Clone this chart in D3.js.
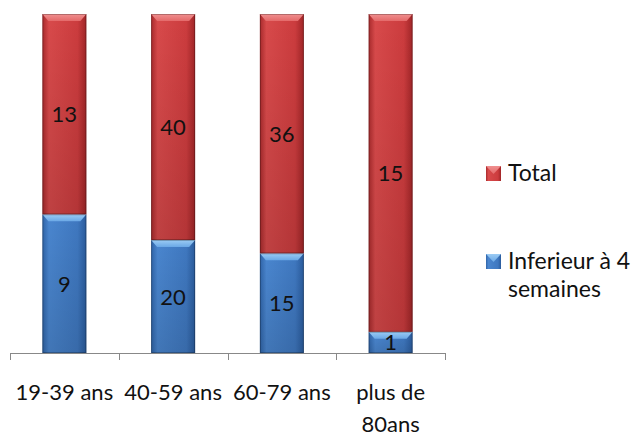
<!DOCTYPE html>
<html><head><meta charset="utf-8">
<script src="https://cdn.jsdelivr.net/npm/d3@7"></script>
<style>body{margin:0;background:#fff}svg{display:block}text{font-family:Lato,"Open Sans",sans-serif;fill:#111}</style>
</head><body><svg id="c" width="642" height="437"></svg>
<script>
const categories = ["19-39 ans","40-59 ans","60-79 ans","plus de 80ans"];
const categoryLines = [["19-39 ans"],["40-59 ans"],["60-79 ans"],["plus de","80ans"]];
const inferieur = [9,20,15,1];
const total = [13,40,36,15];
const seriesNames = ["Inferieur à 4 semaines","Total"];

const svg = d3.select("#c");
const rows = categories.map((c,i)=>({cat:c, inf:inferieur[i], tot:total[i]}));
const stack = d3.stack().keys(["inf","tot"]).offset(d3.stackOffsetExpand);
const series = stack(rows);

const x = d3.scaleBand().domain(categories).range([10,445]).paddingInner(0).paddingOuter(0);
const y = d3.scaleLinear().domain([0,1]).range([353,14]);
const bw = 44;

const defs = svg.append("defs");
const pal = {
  inf:{main:["#2f64a8","#4a86cf","#3f78c0","#2a5b9c"], bevel:["#6aa8e6","#9cccf4"], name:"b"},
  tot:{main:["#a82a2c","#d84a4b","#cc3c3e","#a02527"], bevel:["#e46a6a","#f09090"], name:"r"}
};
Object.values(pal).forEach(p=>{
  const g = defs.append("linearGradient").attr("id","g"+p.name).attr("x1",0).attr("x2",1).attr("y1",0).attr("y2",0);
  g.append("stop").attr("offset","0%").attr("stop-color",p.main[0]);
  g.append("stop").attr("offset","15%").attr("stop-color",p.main[1]);
  g.append("stop").attr("offset","80%").attr("stop-color",p.main[2]);
  g.append("stop").attr("offset","100%").attr("stop-color",p.main[3]);
  const v = defs.append("linearGradient").attr("id","v"+p.name).attr("x1",0).attr("x2",0).attr("y1",0).attr("y2",1);
  v.append("stop").attr("offset","0%").attr("stop-color","#000").attr("stop-opacity",0);
  v.append("stop").attr("offset","100%").attr("stop-color","#000").attr("stop-opacity",0.12);
  const b = defs.append("linearGradient").attr("id","k"+p.name).attr("x1",0).attr("x2",0).attr("y1",0).attr("y2",1);
  b.append("stop").attr("offset","0%").attr("stop-color",p.bevel[1]);
  b.append("stop").attr("offset","100%").attr("stop-color",p.bevel[0]);
});

series.forEach(s=>{
  const p = pal[s.key];
  const g = svg.append("g");
  s.forEach((d,i)=>{
    const x0 = x(d.data.cat) + (x.bandwidth()-bw)/2;
    const y0 = y(d[1]), y1 = y(d[0]);
    const h = y1 - y0;
    g.append("rect").attr("x",x0).attr("y",y0).attr("width",bw).attr("height",h).attr("fill",`url(#g${p.name})`);
    g.append("rect").attr("x",x0).attr("y",y0).attr("width",bw).attr("height",h).attr("fill",`url(#v${p.name})`);
    const bh = Math.min(7, h/2);
    g.append("path").attr("d",`M${x0},${y0}L${x0+bw},${y0}L${x0+bw-6},${y0+bh}L${x0+6},${y0+bh}Z`).attr("fill",`url(#k${p.name})`);
    g.append("rect").attr("x",x0+0.5).attr("y",y0+0.5).attr("width",bw-1).attr("height",h-1).attr("fill","none").attr("stroke","rgba(0,0,0,0.25)").attr("stroke-width",1);
    const val = s.key==="inf" ? inferieur[i] : total[i];
    g.append("text").attr("x",x0+bw/2).attr("y",(y0+y1)/2+8).attr("text-anchor","middle").attr("font-size",22).text(val);
  });
});

// axis
const ax = svg.append("g");
ax.append("line").attr("x1",10).attr("x2",445).attr("y1",353.5).attr("y2",353.5).attr("stroke","#888").attr("stroke-width",1);
const ticks = categories.map(c=>x(c)).concat([445]);
ax.selectAll("line.t").data(ticks).join("line").attr("class","t")
  .attr("x1",d=>Math.round(d)+0.5).attr("x2",d=>Math.round(d)+0.5).attr("y1",353).attr("y2",360).attr("stroke","#888");
categories.forEach((c,i)=>{
  const t = svg.append("text").attr("text-anchor","middle").attr("font-size",22)
    .attr("x",x(c)+x.bandwidth()/2).attr("y",400);
  categoryLines[i].forEach((ln,j)=>t.append("tspan").attr("x",x(c)+x.bandwidth()/2).attr("dy",j?32:0).text(ln));
});

// legend
const leg = [{k:"tot",label:["Total"],y:166},{k:"inf",label:["Inferieur à 4","semaines"],y:254}];
leg.forEach(l=>{
  const p = pal[l.k];
  svg.append("rect").attr("x",486).attr("y",l.y).attr("width",15).attr("height",15).attr("fill",`url(#g${p.name})`);
  svg.append("path").attr("d",`M486,${l.y}L501,${l.y}L493.5,${l.y+8}Z`).attr("fill",`url(#k${p.name})`);
  const t = svg.append("text").attr("x",508).attr("y",l.y+15).attr("font-size",23);
  l.label.forEach((ln,j)=>t.append("tspan").attr("x",508).attr("dy",j?28:0).text(ln));
});
</script></body></html>
